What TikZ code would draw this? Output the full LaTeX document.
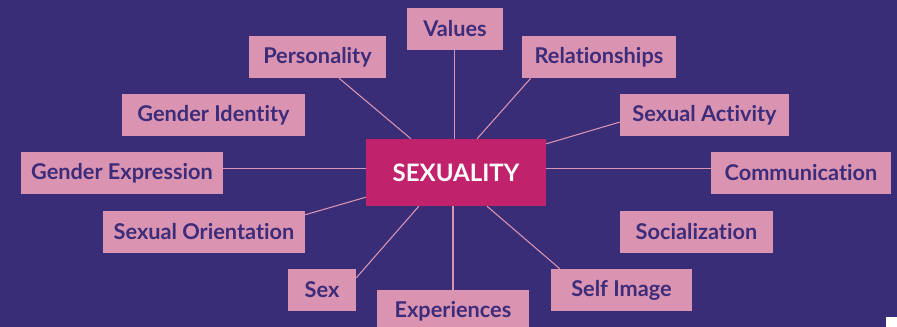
\documentclass[tikz,border=0pt]{standalone}
\usepackage{fontspec}
\setmainfont{Lato}[Ligatures={NoCommon,NoRequired,NoContextual,NoRare}]
\usetikzlibrary{calc}
\definecolor{bgpurple}{RGB}{58,45,120}
\definecolor{boxpink}{RGB}{218,148,178}
\definecolor{corepink}{RGB}{192,34,108}
\definecolor{txtpurple}{RGB}{60,44,122}
\begin{document}
\begin{tikzpicture}[x=0.75pt,y=-0.75pt,
  facet/.style={fill=boxpink,text=txtpurple,inner sep=0pt,minimum height=31.5pt,
    font=\fontsize{16.3}{18}\selectfont\bfseries},
  core/.style={fill=corepink,text=white,inner sep=0pt,minimum width=135pt,minimum height=50.25pt,
    font=\fontsize{18}{20}\selectfont\bfseries},
  spoke/.style={draw=boxpink,line width=0.8pt}]
% canvas
\fill[bgpurple] (0,0) rectangle (897,327);
\useasboundingbox (0,0) rectangle (897,327);

% central concept
\node[core] (core) at (456,172.5) {SEXUALITY};

% surrounding aspects
\node[facet,minimum width=72pt]    (vals)  at (455,29)    {Values};
\node[facet,minimum width=102.75pt] (pers)  at (317.5,57)  {Personality};
\node[facet,minimum width=115.5pt] (rel)   at (599,57)    {Relationships};
\node[facet,minimum width=137.25pt] (gid)  at (213.5,115) {Gender Identity};
\node[facet,minimum width=126.75pt] (sact) at (704.5,115) {Sexual Activity};
\node[facet,minimum width=151.5pt] (gexp)  at (122,173)   {Gender Expression};
\node[facet,minimum width=135pt]   (comm)  at (801,173)   {Communication};
\node[facet,minimum width=151.5pt] (sori)  at (204,232)   {Sexual Orientation};
\node[facet,minimum width=114.75pt] (soc)  at (696.5,232) {Socialization};
\node[facet,minimum width=51pt]    (sex)   at (322,290)   {Sex};
\node[facet,minimum width=105.75pt] (simg) at (621.5,290) {Self Image};
\node[facet,minimum width=114pt]   (exp)   at (453,311)   {Experiences};

% spokes
\draw[spoke] ($(pers.south west)!0.657!(pers.south east)$) -- ($(core.north west)!0.25!(core.north east)$);
\draw[spoke] ($(vals.south west)!0.49!(vals.south east)$) coordinate (v) -- (v |- core.north);
\draw[spoke] ($(rel.south west)!0.058!(rel.south east)$) -- ($(core.north west)!0.617!(core.north east)$);
\draw[spoke] ($(sact.north west)!0.667!(sact.south west)$) -- ($(core.north east)!0.075!(core.south east)$);
\draw[spoke] ($(comm.north west)!0.405!(comm.south west)$) coordinate (c) -- (c -| core.east);
\draw[spoke] ($(gexp.north east)!0.405!(gexp.south east)$) coordinate (g) -- (g -| core.west);
\draw[spoke] ($(sori.north east)!0.095!(sori.south east)$) -- ($(core.north west)!0.866!(core.south west)$);
\draw[spoke] ($(sex.north east)!0.214!(sex.south east)$) -- ($(core.south west)!0.294!(core.south east)$);
\draw[spoke] (exp.north) -- (exp.north |- core.south);
\draw[spoke] ($(simg.north west)!0.064!(simg.north east)$) -- ($(core.south west)!0.672!(core.south east)$);

% corner mark
\fill[white] (886,317) rectangle (897,327);
\end{tikzpicture}
\end{document}
